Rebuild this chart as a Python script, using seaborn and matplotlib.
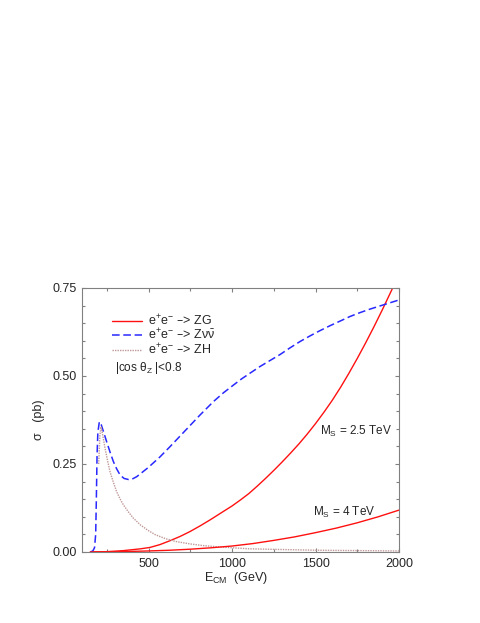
import matplotlib
matplotlib.use('Agg')
import matplotlib.pyplot as plt
from matplotlib.ticker import MultipleLocator, FormatStrFormatter
import seaborn as sns

# cross sections, E in GeV, sigma in pb
e_zg25 = [150, 250, 350, 450, 508, 567, 627, 687, 747, 807, 867, 930, 1000, 1050, 1100, 1150, 1200,
          1250, 1300, 1350, 1400, 1450, 1500, 1550, 1600, 1650, 1700, 1750, 1800, 1850, 1900, 1962]
s_zg25 = [0.0, 0.001, 0.004, 0.009, 0.013, 0.021, 0.032, 0.044, 0.058, 0.074, 0.091, 0.110, 0.131,
          0.148, 0.166, 0.187, 0.209, 0.232, 0.256, 0.281, 0.307, 0.335, 0.365, 0.397, 0.431, 0.468,
          0.508, 0.550, 0.594, 0.640, 0.688, 0.750]

e_zg4 = [150, 300, 500, 625, 750, 875, 1000, 1125, 1250, 1375, 1500, 1625, 1750, 1875, 2000]
s_zg4 = [0.0, 0.0005, 0.003, 0.005, 0.008, 0.012, 0.017, 0.024, 0.033, 0.043, 0.055, 0.068, 0.083,
         0.100, 0.119]

e_znn = [150, 165, 175, 182, 186, 190, 195, 204, 215, 230, 248, 268, 288, 308, 328, 352, 378, 400,
         428, 460, 497, 567, 627, 687, 737, 807, 887, 947, 1007, 1057, 1107, 1167, 1227, 1287, 1347,
         1407, 1467, 1527, 1587, 1647, 1706, 1766, 1826, 1906, 2000]
s_znn = [0.0, 0.003, 0.012, 0.05, 0.15, 0.27, 0.34, 0.370, 0.362, 0.340, 0.313, 0.284, 0.257, 0.236,
         0.219, 0.209, 0.206, 0.207, 0.214, 0.226, 0.240, 0.270, 0.299, 0.329, 0.354, 0.389, 0.427,
         0.452, 0.474, 0.492, 0.508, 0.527, 0.544, 0.561, 0.580, 0.598, 0.614, 0.629, 0.643, 0.656,
         0.669, 0.680, 0.690, 0.702, 0.716]

e_zh = [200, 207, 214, 225, 238, 252, 268, 288, 308, 328, 348, 378, 408, 450, 497, 540, 600, 660, 747,
        830, 907, 1000, 1107, 1300, 1507, 1750, 2000]
s_zh = [0.25, 0.33, 0.356, 0.330, 0.295, 0.262, 0.228, 0.198, 0.171, 0.151, 0.134, 0.114, 0.096,
        0.077, 0.061, 0.049, 0.038, 0.030, 0.023, 0.018, 0.015, 0.012, 0.009, 0.007, 0.005, 0.004,
        0.003]

sns.set_style('ticks')
plt.rcParams['font.family'] = ['Liberation Sans', 'DejaVu Sans']
plt.rcParams['mathtext.default'] = 'regular'
plt.rcParams['font.size'] = 8.5

fig = plt.figure(figsize=(4.81, 6.23), dpi=100)
ax = fig.add_axes([82/481, 71/623, 317/481, 264/623])

sns.lineplot(x=e_zg25, y=s_zg25, ax=ax, color='#ff1010', lw=1.0, sort=False, estimator=None,
             label='e$^{+}$e$^{-}$ –> ZG')
sns.lineplot(x=e_znn, y=s_znn, ax=ax, color='#2828ff', lw=1.1, sort=False, estimator=None,
             linestyle=(0, (5, 2.4)), label=r'e$^{+}$e$^{-}$ –> Z$\nu\bar{\nu}$')
sns.lineplot(x=e_zh, y=s_zh, ax=ax, color='#c09898', lw=1.0, sort=False, estimator=None,
             linestyle=(0, (1, 0.8)), label='e$^{+}$e$^{-}$ –> ZH')
sns.lineplot(x=e_zg4, y=s_zg4, ax=ax, color='#ff1010', lw=1.0, sort=False, estimator=None)

ax.set_xlim(100, 2000)
ax.set_ylim(0, 0.75)
ax.xaxis.set_major_locator(MultipleLocator(500))
ax.xaxis.set_minor_locator(MultipleLocator(250))
ax.yaxis.set_major_locator(MultipleLocator(0.25))
ax.yaxis.set_minor_locator(MultipleLocator(0.05))
ax.yaxis.set_major_formatter(FormatStrFormatter('%.2f'))
ax.set_xticks([500, 1000, 1500, 2000])

for s in ax.spines.values():
    s.set_color('#808080')
    s.set_linewidth(0.8)
ax.tick_params(which='both', direction='in', top=True, right=True, color='#808080', width=0.8,
               labelsize=9, pad=4)
ax.tick_params(which='major', length=3)
ax.tick_params(which='minor', length=2)

ax.set_xlabel('E$_{CM}$  (GeV)', fontsize=9)
ax.set_ylabel('σ   (pb)', fontsize=9)
ax.xaxis.set_label_coords(0.486, -0.068)
ax.yaxis.set_label_coords(-0.118, 0.5)

ax.legend(loc='upper left', bbox_to_anchor=(0.095, 0.905), frameon=False, borderpad=0,
          borderaxespad=0, handlelength=2.4, handletextpad=0.5, labelspacing=-0.05, fontsize=9)

ax.text(0.104, 0.697, r'|cos $\theta_Z$ |<0.8', transform=ax.transAxes, fontsize=8.5, va='center')
ax.text(1527, 0.342, 'M$_S$ = 2.5 TeV', fontsize=8.5, va='center')
ax.text(1485, 0.111, 'M$_S$ = 4 TeV', fontsize=8.5, va='center')

fig.savefig('out.png', dpi=100)
